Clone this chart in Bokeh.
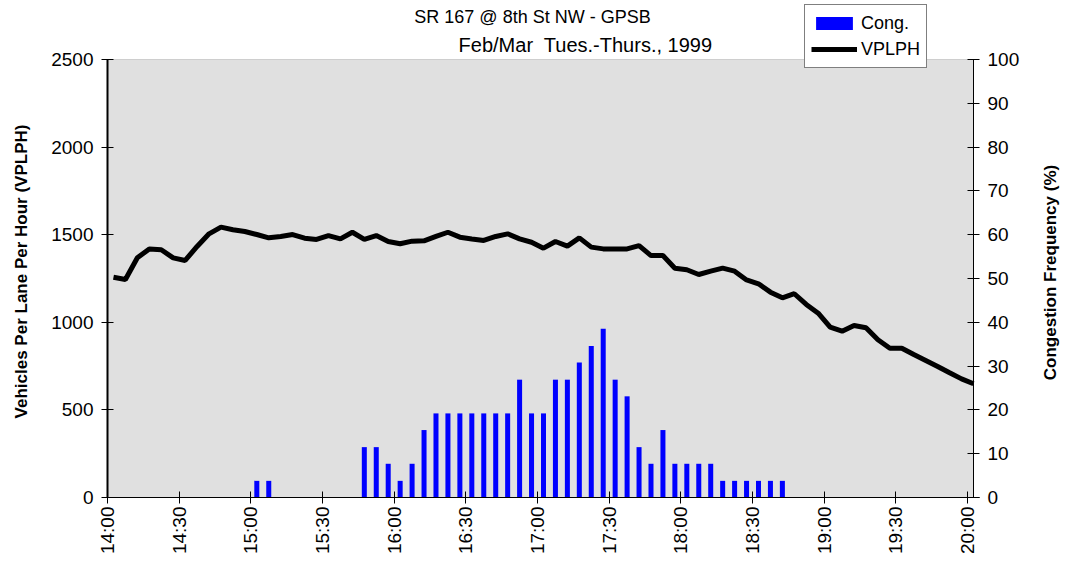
from bokeh.plotting import figure
from bokeh.models import Range1d, LinearAxis, Label, Legend, LegendItem, FixedTicker, BoxAnnotation
from bokeh.embed import file_html
from bokeh.resources import INLINE
import math

# ---- data ----
times = ["%d:%02d" % (14 + (m // 60), m % 60) for m in range(0, 361, 5)]  # 14:00 .. 20:00, 73 slots

vplph = [1257, 1244, 1368, 1419, 1414, 1368, 1353, 1433, 1505, 1543,
         1528, 1518, 1501, 1482, 1490, 1501, 1480, 1473, 1495, 1476,
         1514, 1473, 1495, 1461, 1448, 1463, 1465, 1490, 1514, 1486,
         1476, 1467, 1490, 1505, 1476, 1457, 1423, 1461, 1435, 1482,
         1429, 1419, 1419, 1419, 1438, 1381, 1381, 1309, 1300, 1273,
         1292, 1309, 1292, 1242, 1220, 1172, 1140, 1163, 1102, 1052,
         972, 949, 982, 969, 900, 852, 852, 816, 782, 748,
         712, 677, 649]

cong = [0, 0, 0, 0, 0, 0, 0, 0, 0, 0,
        0, 0, 3.8, 3.8, 0, 0, 0, 0, 0, 0,
        0, 11.5, 11.5, 7.7, 3.8, 7.7, 15.4, 19.2, 19.2, 19.2,
        19.2, 19.2, 19.2, 19.2, 26.9, 19.2, 19.2, 26.9, 26.9, 30.8,
        34.6, 38.5, 26.9, 23.1, 11.5, 7.7, 15.4, 7.7, 7.7, 7.7,
        7.7, 3.8, 3.8, 3.8, 3.8, 3.8, 3.8, 0, 0, 0,
        0, 0, 0, 0, 0, 0, 0, 0, 0, 0,
        0, 0, 0]

tick_labels = ["14:00", "14:30", "15:00", "15:30", "16:00", "16:30", "17:00",
               "17:30", "18:00", "18:30", "19:00", "19:30", "20:00"]
left_ticks = [0, 500, 1000, 1500, 2000, 2500]
right_ticks = [0, 10, 20, 30, 40, 50, 60, 70, 80, 90, 100]

title_text = "SR 167 @ 8th St NW - GPSB"
subtitle_text = "Feb/Mar\u00a0 Tues.-Thurs., 1999"
left_title = "Vehicles Per Lane Per Hour (VPLPH)"
right_title = "Congestion Frequency (%)"


def to_min(t):
    h, m = t.split(":")
    return (int(h) - 14) * 60 + int(m)


xs = [to_min(t) + 2.5 for t in times]
tick_pos = [to_min(t) for t in tick_labels]

SANS = "'Liberation Sans', Arial, sans-serif"

# Layout: the frame covers the whole canvas and the three axes are fixed at
# the edges of the grey plot area, so nothing outside that area is clipped.
W, H = 1066, 561
LEFT_PX, RIGHT_PX, BOTTOM_PX = 107, 973, 497   # grey plot area edges
PLOT_TOP_PX = 59
X_END = 362.5
LEFT_MAX = 2500
RIGHT_MAX = 100

plot_h = BOTTOM_PX - PLOT_TOP_PX
kx = X_END / (RIGHT_PX - LEFT_PX)


def full_range(vmax):
    k = vmax / plot_h
    return Range1d(-(H - BOTTOM_PX) * k, vmax + PLOT_TOP_PX * k)


p = figure(width=W, height=H, output_backend="svg", toolbar_location=None,
           x_range=Range1d(-LEFT_PX * kx, (W - LEFT_PX) * kx), y_range=full_range(LEFT_MAX),
           min_border_left=0, min_border_right=0, min_border_top=0, min_border_bottom=0)
p.background_fill_color = "white"
p.border_fill_color = "white"
p.outline_line_color = None
p.xgrid.visible = False
p.ygrid.visible = False

p.extra_y_ranges = {"pct": full_range(RIGHT_MAX)}

p.add_layout(BoxAnnotation(left=0, right=X_END, bottom=0, top=LEFT_MAX,
                           fill_color="#E0E0E0", fill_alpha=1,
                           line_color="#808080", line_width=1, level="underlay"))

bars = p.vbar(x=xs, top=cong, width=2.1, y_range_name="pct",
              fill_color="#0000FF", line_color=None)
line = p.line(xs, vplph, line_width=5, line_color="black")

# x axis, fixed at the bottom of the grey plot area
xa = p.xaxis[0]
xa.fixed_location = 0
xa.ticker = FixedTicker(ticks=tick_pos)
xa.bounds = (0, X_END + 2.5)
xa.major_label_overrides = {pos: lab for pos, lab in zip(tick_pos, tick_labels)}
xa.major_label_orientation = math.pi / 2
xa.major_label_text_font = SANS
xa.major_label_text_font_size = "19px"
xa.major_label_text_color = "black"
xa.major_label_standoff = 3
xa.major_tick_in = 6
xa.major_tick_out = 6
xa.minor_tick_line_color = None
xa.axis_line_color = "black"
xa.major_tick_line_color = "black"

# left axis, fixed at the left edge of the grey plot area
ya = p.yaxis[0]
ya.fixed_location = 0
ya.ticker = FixedTicker(ticks=left_ticks)
ya.bounds = (0, LEFT_MAX)
ya.major_label_text_font = SANS
ya.major_label_text_font_size = "19px"
ya.major_label_text_color = "black"
ya.major_label_standoff = 8
ya.major_tick_in = 6
ya.major_tick_out = 6
ya.minor_tick_line_color = None
ya.axis_line_color = "black"
ya.axis_line_width = 2

# right axis, fixed at the right edge of the grey plot area
ra = LinearAxis(y_range_name="pct", ticker=FixedTicker(ticks=right_ticks),
                bounds=(0, RIGHT_MAX), fixed_location=X_END)
ra.major_label_text_font = SANS
ra.major_label_text_font_size = "19px"
ra.major_label_text_color = "black"
ra.major_label_standoff = 8
ra.major_tick_in = 6
ra.major_tick_out = 6
ra.minor_tick_line_color = None
ra.axis_line_color = "black"
p.add_layout(ra, "right")

# axis titles (both read bottom to top)
p.add_layout(Label(x=21, y=H - 271, x_units="screen", y_units="screen",
                   text=left_title, angle=math.pi / 2,
                   text_font=SANS, text_font_style="bold", text_font_size="17px",
                   text_align="center", text_baseline="middle", text_color="black"))
p.add_layout(Label(x=1050, y=H - 272, x_units="screen", y_units="screen",
                   text=right_title, angle=math.pi / 2,
                   text_font=SANS, text_font_style="bold", text_font_size="17px",
                   text_align="center", text_baseline="middle", text_color="black"))

# titles
p.add_layout(Label(x=532, y=H - 16, x_units="screen", y_units="screen",
                   text=title_text,
                   text_font=SANS, text_font_size="18px", text_align="center",
                   text_baseline="alphabetic", text_color="black"))
p.add_layout(Label(x=585, y=H - 44, x_units="screen", y_units="screen",
                   text=subtitle_text,
                   text_font=SANS, text_font_size="20px", text_align="center",
                   text_baseline="alphabetic", text_color="black"))

legend = Legend(items=[LegendItem(label="Cong.", renderers=[bars]),
                       LegendItem(label="VPLPH", renderers=[line])],
                location=(804, H - 68))
legend.border_line_color = "black"
legend.border_line_width = 1
legend.background_fill_color = "white"
legend.background_fill_alpha = 1
legend.padding = 6
legend.margin = 0
legend.spacing = 2
legend.glyph_width = 46
legend.glyph_height = 16
legend.label_height = 24
legend.label_standoff = 4
legend.label_text_font = SANS
legend.label_text_font_size = "18px"
legend.label_text_color = "black"
p.add_layout(legend, "center")

open("out.html", "w").write(file_html(p, INLINE))
